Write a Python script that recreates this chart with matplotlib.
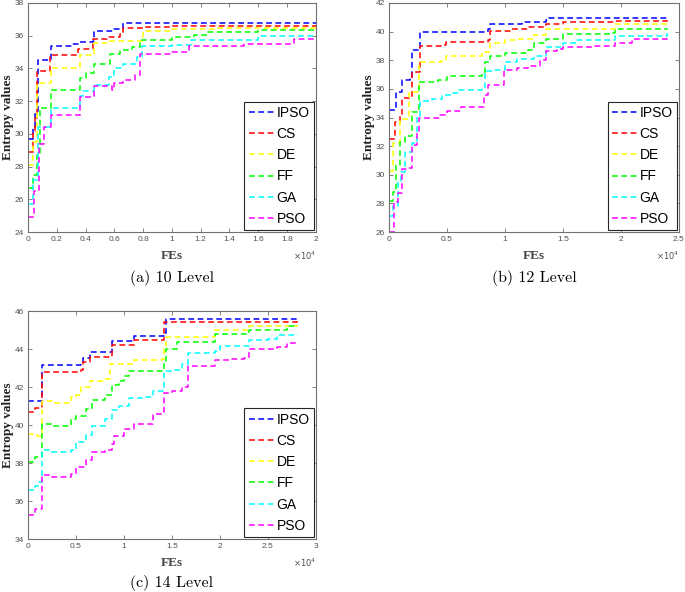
import matplotlib
matplotlib.use('Agg')
import matplotlib.pyplot as plt
from matplotlib.ticker import FuncFormatter

# convergence curves, (FEs, entropy) breakpoints
names = ['IPSO', 'CS', 'DE', 'FF', 'GA', 'PSO']
colors = ['#0000ff', '#ff0000', '#ffff00', '#00ff00', '#00ffff', '#ff00ff']

# 10 level
ipso10 = [(0, 29.7), (350, 30.4), (500, 31.2), (700, 34.5), (1600, 35.4), (3000, 35.5), (3600, 35.6),
          (4500, 35.7), (4600, 36.3), (6000, 36.4), (6600, 36.75), (10000, 36.8), (20000, 36.8)]
cs10 = [(0, 28.9), (330, 30.2), (450, 31.0), (650, 33.85), (1550, 34.8), (3500, 35.2), (4500, 35.8),
        (5500, 35.9), (6400, 36.1), (6600, 36.5), (8000, 36.55), (10000, 36.62), (20000, 36.65)]
de10 = [(0, 28.1), (350, 29.5), (650, 33.1), (1600, 34.05), (3600, 34.85), (4600, 35.55), (5500, 35.65),
        (8000, 36.3), (10000, 36.4), (13000, 36.5), (20000, 36.55)]
ff10 = [(0, 26.7), (330, 27.5), (650, 28.7), (800, 31.6), (1600, 32.7), (3600, 33.4), (4000, 33.7),
        (4600, 34.25), (5700, 34.9), (6400, 35.15), (7200, 35.3), (7800, 35.75), (10000, 35.9),
        (11500, 36.05), (12500, 36.2), (16000, 36.35), (20000, 36.4)]
ga10 = [(0, 25.7), (330, 27.2), (700, 30.4), (1600, 31.6), (3600, 32.3), (3800, 32.6), (4600, 33.0),
        (5600, 33.5), (6000, 34.0), (6600, 34.25), (7600, 34.7), (7900, 35.35), (10000, 35.45),
        (11300, 35.75), (16000, 36.0), (20000, 36.05)]
pso10 = [(0, 24.9), (420, 26.5), (750, 29.4), (1100, 30.4), (1600, 31.15), (3600, 32.25), (4600, 32.9),
         (5800, 32.7), (6000, 33.1), (6600, 33.3), (7400, 33.6), (7800, 34.9), (10000, 35.0),
         (11200, 35.35), (15000, 35.5), (18500, 35.8), (20000, 35.8)]

# 12 level
ipso12 = [(0, 34.5), (600, 35.75), (1100, 36.6), (1800, 36.8), (2000, 38.7), (2650, 39.95), (5000, 40.0),
          (8500, 40.15), (8700, 40.5), (10500, 40.55), (11500, 40.7), (13500, 40.8), (13800, 40.95),
          (24000, 40.95)]
cs12 = [(0, 32.5), (500, 33.7), (900, 34.2), (1100, 35.35), (1800, 35.45), (2000, 37.15), (2700, 39.0),
        (4500, 39.05), (4900, 39.3), (8500, 39.4), (8700, 40.05), (10500, 40.15), (12000, 40.35),
        (13500, 40.55), (15000, 40.65), (19500, 40.75), (24000, 40.8)]
de12 = [(0, 30.25), (350, 32.2), (900, 33.9), (1700, 35.75), (2550, 37.85), (4500, 37.95), (4900, 38.3),
        (8000, 38.55), (8700, 39.2), (10000, 39.4), (11000, 39.5), (12500, 39.75), (13500, 40.15),
        (16000, 40.2), (19500, 40.5), (24000, 40.5)]
ff12 = [(0, 28.15), (350, 28.8), (600, 30.7), (950, 32.3), (1400, 32.7), (2000, 34.4), (2600, 36.45),
        (4200, 36.65), (5000, 36.9), (8000, 37.2), (8300, 37.9), (8700, 38.3), (10000, 38.5),
        (12000, 38.7), (12500, 39.2), (13500, 39.5), (15000, 39.85), (19000, 39.9), (19500, 40.2),
        (24000, 40.25)]
ga12 = [(0, 27.1), (350, 27.8), (750, 29.6), (1000, 30.2), (1400, 31.6), (2000, 32.2), (2400, 34.1),
        (2700, 35.15), (3700, 35.3), (4600, 35.6), (5500, 35.7), (6000, 35.9), (8000, 36.0),
        (8300, 37.25), (9000, 37.3), (10000, 37.9), (11000, 38.1), (12500, 38.3), (13500, 38.9),
        (15000, 39.2), (16000, 39.4), (19500, 39.7), (24000, 39.9)]
pso12 = [(0, 26.0), (450, 28.1), (800, 28.7), (1100, 30.4), (1500, 30.5), (2000, 32.1), (2400, 33.0),
         (2600, 34.0), (4400, 34.2), (5000, 34.45), (6200, 34.7), (7900, 34.75), (8200, 35.6),
         (8500, 36.25), (9800, 36.3), (9900, 37.35), (11000, 37.45), (12000, 37.6), (13000, 38.0),
         (13500, 38.65), (14500, 38.8), (15000, 38.9), (17500, 39.0), (19500, 39.2), (21000, 39.5),
         (24000, 39.55)]

# 14 level
ipso14 = [(0, 41.25), (1400, 43.15), (5500, 43.2), (5700, 43.55), (6500, 43.85), (8700, 44.4),
          (11000, 44.7), (14200, 44.85), (14400, 45.6), (28000, 45.6)]
cs14 = [(0, 40.7), (700, 40.9), (1400, 42.8), (5500, 42.9), (5700, 43.3), (6500, 43.6), (8700, 44.2),
        (11000, 44.5), (14200, 45.45), (28000, 45.5)]
de14 = [(0, 39.55), (900, 39.45), (1400, 41.25), (2500, 41.15), (4500, 41.5), (5000, 41.6), (5500, 42.0),
        (6500, 42.3), (7800, 42.4), (8500, 43.2), (11000, 43.45), (14000, 43.5), (14200, 44.0),
        (14400, 44.65), (19500, 45.0), (23000, 45.2), (28000, 45.25)]
ff14 = [(0, 38.05), (700, 38.3), (1400, 40.05), (2500, 39.95), (4500, 40.3), (5000, 40.5), (6000, 40.85),
        (6700, 41.3), (8000, 41.6), (8700, 42.1), (9500, 42.3), (10000, 42.6), (10500, 42.85),
        (14000, 42.9), (14200, 43.3), (14400, 44.0), (15500, 44.35), (19500, 44.8), (23000, 45.0),
        (27000, 45.2), (28000, 45.2)]
ga14 = [(0, 36.6), (700, 36.8), (1000, 37.0), (1400, 38.7), (2500, 38.6), (4500, 38.7), (5000, 39.1),
        (6000, 39.5), (6700, 39.95), (8000, 40.3), (8700, 40.8), (9500, 41.0), (10500, 41.4),
        (12000, 41.5), (13000, 41.8), (14200, 42.85), (15000, 42.9), (16000, 43.2), (16700, 43.8),
        (19500, 43.9), (20000, 44.15), (23000, 44.5), (25000, 44.55), (26000, 44.75), (28000, 44.8)]
pso14 = [(0, 35.25), (700, 35.6), (1400, 37.35), (2500, 37.25), (4500, 37.4), (5000, 37.8), (6000, 38.15),
         (6700, 38.6), (8000, 38.7), (8700, 39.0), (9000, 39.4), (10000, 39.8), (11000, 40.05),
         (13000, 40.6), (14000, 40.7), (14200, 41.7), (15000, 41.8), (16000, 42.0), (16700, 43.1),
         (19500, 43.45), (21000, 43.5), (22500, 43.55), (23000, 44.0), (26000, 44.1), (27000, 44.3),
         (28000, 44.35)]

panels = [
    dict(curves=[ipso10, cs10, de10, ff10, ga10, pso10], xmax=20000, xstep=2000, ylim=(24, 38),
         caption='(a) 10 Level', cap_y=0.530, rect=[0.041, 0.608, 0.420, 0.387]),
    dict(curves=[ipso12, cs12, de12, ff12, ga12, pso12], xmax=25000, xstep=5000, ylim=(26, 42),
         caption='(b) 12 Level', cap_y=0.530, rect=[0.568, 0.608, 0.423, 0.387]),
    dict(curves=[ipso14, cs14, de14, ff14, ga14, pso14], xmax=30000, xstep=5000, ylim=(34, 46),
         caption='(c) 14 Level', cap_y=0.0145, rect=[0.041, 0.0895, 0.420, 0.385]),
]

fig = plt.figure(figsize=(6.85, 5.92), dpi=100)
frame = '#707070'

for p in panels:
    ax = fig.add_axes(p['rect'])
    for pts, name, c in zip(p['curves'], names, colors):
        xs = [q[0] for q in pts]
        ys = [q[1] for q in pts]
        ax.step(xs, ys, where='post', color=c, lw=1.1, dashes=(3.8, 2.3), label=name)
    ax.set_xlim(0, p['xmax'])
    ax.set_ylim(*p['ylim'])
    ax.set_xticks(range(0, p['xmax'] + 1, p['xstep']))
    ax.set_yticks(range(p['ylim'][0], p['ylim'][1] + 1, 2))
    ax.xaxis.set_major_formatter(FuncFormatter(lambda v, _: f'{v / 1e4:g}'))
    ax.tick_params(direction='in', top=True, right=True, length=3, width=0.6,
                   colors=frame, labelcolor='#505050', labelsize=6, pad=3,
                   labelfontfamily='Liberation Sans')
    for s in ax.spines.values():
        s.set_color(frame)
        s.set_linewidth(0.8)
    ax.set_xlabel('FEs', family='Liberation Serif', weight='bold', fontsize=9.5, color='#444444', va='center')
    ax.set_ylabel('Entropy values', family='Liberation Serif', weight='bold', fontsize=9.5,
                  color='#222222', va='center')
    ax.xaxis.set_label_coords(0.5, -0.105)
    ax.yaxis.set_label_coords(-0.07, 0.5)
    ax.text(1.0, -0.105, r'$\times10^{4}$', transform=ax.transAxes, ha='right', va='center',
            fontsize=6, color='#505050')
    leg = ax.legend(loc='lower right', prop={'family': 'Liberation Sans', 'size': 10},
                    fancybox=False, framealpha=1, edgecolor='#262626', borderaxespad=0.15,
                    handlelength=1.8, handletextpad=0.2, labelspacing=0.52, borderpad=0.3)
    leg.get_frame().set_linewidth(0.8)
    x0, y0, w, h = p['rect']
    fig.text(x0 + w / 2, p['cap_y'], p['caption'], family='cmr10', fontsize=11.5, ha='center', va='center')

fig.savefig('out.png', dpi=100, facecolor='white')
